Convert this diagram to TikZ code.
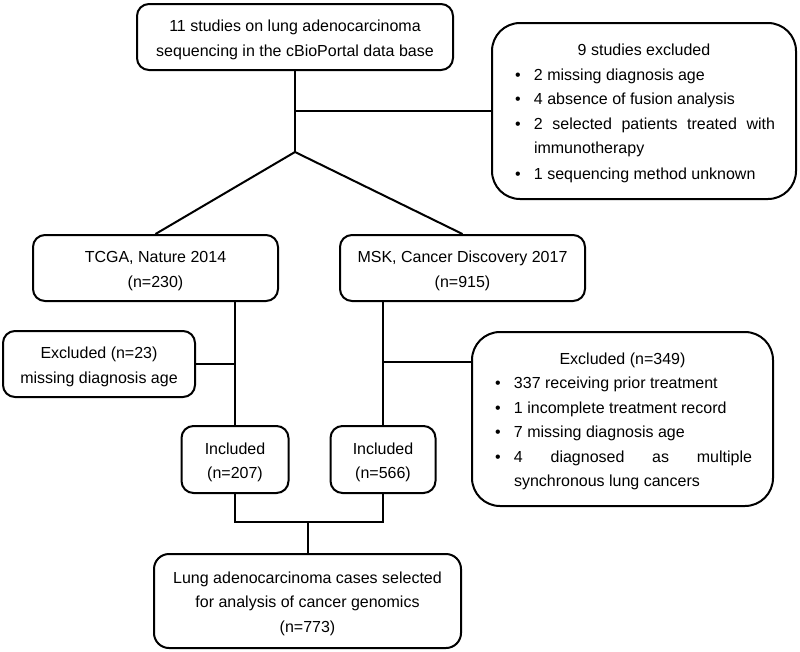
\documentclass[tikz,border=0pt]{standalone}
\usepackage{fontspec}
\setmainfont{Liberation Sans}
\newcommand{\ctext}[1]{\raisebox{-2pt}[\height][\depth]{\begin{tabular}{@{}c@{}}#1\end{tabular}}}
\newcommand{\bul}[1]{\par\noindent\hbox to 21pt{\hskip2pt\textbullet\hss}\parbox[t]{\dimexpr\hsize-21pt\relax}{#1\strut}}
\newcommand{\blist}[2]{\raisebox{-4.5pt}[\height][\depth]{\parbox{#1}{\tolerance=10000 \hyphenpenalty=10000 #2}}}

\begin{document}
\begin{tikzpicture}[x=1pt,y=-1pt,line width=2pt,
    font=\fontsize{16}{24.5}\selectfont,
    flowbox/.style={draw,rounded corners=12pt,inner sep=0pt},
    listbox/.style={draw,rounded corners=28pt,inner xsep=21pt,inner ysep=0pt}]
    \useasboundingbox (0,0) rectangle (800,651);
    \node[flowbox,minimum width=316pt,minimum height=66pt] (studies) at (295,37) {\ctext{11 studies on lung adenocarcinoma\\sequencing in the cBioPortal data base}};
    \node[listbox,minimum height=176pt] (excl9) at (644,111) {\blist{262pt}{\centerline{9 studies excluded}\bul{2 missing diagnosis age}\bul{4 absence of fusion analysis}\bul{2 selected patients treated with immunotherapy}\bul{1 sequencing method unknown}}};
    \node[flowbox,minimum width=245pt,minimum height=66pt] (tcga) at (155.5,268) {\ctext{TCGA, Nature 2014\\(n=230)}};
    \node[flowbox,minimum width=245pt,minimum height=66pt] (msk) at (462.5,268) {\ctext{MSK, Cancer Discovery 2017\\(n=915)}};
    \node[flowbox,minimum width=192pt,minimum height=66pt] (excl23) at (99,364) {\ctext{Excluded (n=23)\\missing diagnosis age}};
    \node[listbox,minimum height=174pt] (excl349) at (622.5,419) {\blist{259pt}{\centerline{Excluded (n=349)}\bul{337 receiving prior treatment}\bul{1 incomplete treatment record}\bul{7 missing diagnosis age}\bul{4 diagnosed as multiple synchronous lung cancers}}};
    \node[flowbox,minimum width=107pt,minimum height=67pt] (inc207) at (235,459.5) {\ctext{Included\\(n=207)}};
    \node[flowbox,minimum width=105pt,minimum height=67pt] (inc566) at (383,459.5) {\ctext{Included\\(n=566)}};
    \node[flowbox,minimum width=307pt,minimum height=94pt,rounded corners=15pt] (final) at (307.5,601) {\ctext{Lung adenocarcinoma cases selected\\for analysis of cancer genomics\\(n=773)}};

    \coordinate (fork) at (295,152);
    \coordinate (mskcut) at (383,362);
    \coordinate (merge) at (307.5,522);
    \draw (studies.south) -- (fork);
    \draw (studies.south |- excl9.west) -- (excl9.west);
    \draw (tcga.north) -- (fork) -- (msk.north);
    \draw (tcga.south -| inc207.north) -- (inc207.north);
    \draw (excl23.east) -- (excl23.east -| inc207.north);
    \draw (msk.south -| inc566.north) -- (inc566.north);
    \draw (mskcut) -- (mskcut -| excl349.west);
    \draw (inc207.south) |- (merge) -| (inc566.south);
    \draw (merge) -- (final.north);
\end{tikzpicture}
\end{document}
